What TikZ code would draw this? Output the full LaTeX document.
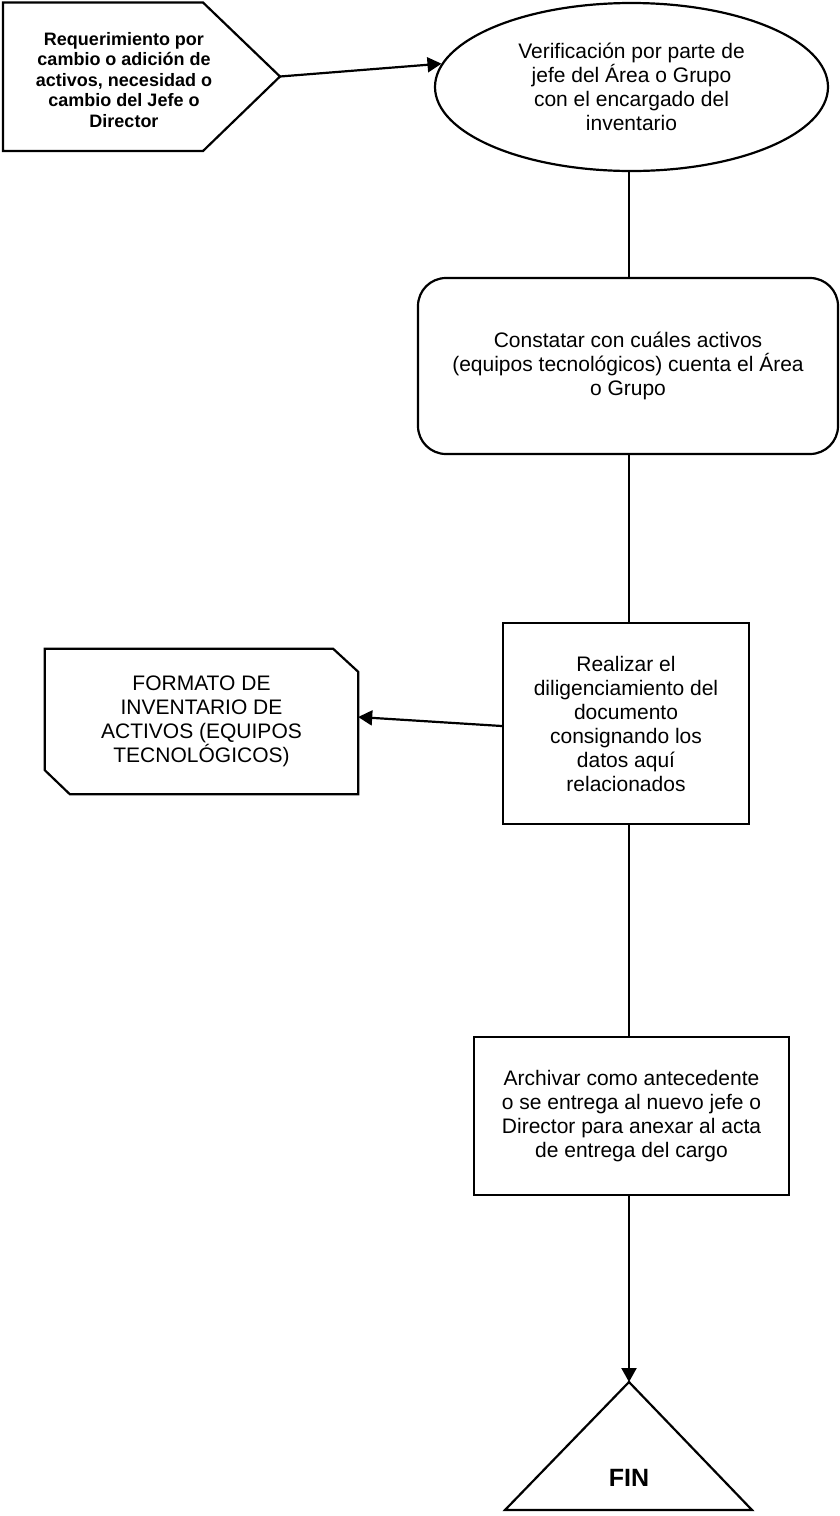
\documentclass[tikz,border=0pt]{standalone}
\usepackage{fontspec}
\setmainfont{Liberation Sans}
\usetikzlibrary{arrows.meta,shapes.geometric}

\tikzset{
  line/.style={line width=2.2pt, draw=black},
  arr/.style={line, -{Triangle[length=14pt,width=15pt]}},
  txt/.style={font=\fontsize{21}{24}\selectfont, align=center, inner sep=0pt},
  boldtxt/.style={font=\fontsize{18}{20.5}\selectfont\bfseries, align=center, inner sep=0pt},
  procbox/.style={line, rectangle, txt},
}

\begin{document}
\begin{tikzpicture}[x=1pt,y=-1pt]
\useasboundingbox (0,0) rectangle (839,1516);

% x position of the main vertical flow
\coordinate (spine) at (629,0);

% start: pentagon pointing right
\coordinate (reqtip) at (280,76.5);
\draw[line, line join=miter] (3,2.5) -- (203,2.5) -- (reqtip) -- (203,151) -- (3,151) -- cycle;
\node[boldtxt] (req) at (124,80) {Requerimiento por\\cambio o adición de\\activos, necesidad o\\cambio del Jefe o\\Director};

% verification ellipse
\node[line, ellipse, minimum width=393pt, minimum height=168pt, inner sep=0pt, txt] (ver) at (631.5,87)
  {Verificación por parte de\\jefe del Área o Grupo\\con el encargado del\\inventario};

% rounded process box
\node[procbox, rounded corners=28pt, minimum width=420pt, minimum height=176pt] (const) at (628,366)
  {Constatar con cuáles activos\\(equipos tecnológicos) cuenta el Área\\o Grupo};

% form filling box
\node[procbox, minimum width=246pt, minimum height=201pt] (real) at (626,723.5)
  {Realizar el\\diligenciamiento del\\documento\\consignando los\\datos aquí\\relacionados};

% inventory form (card with two cut corners)
\node[txt, minimum width=313pt, minimum height=145pt] (card) at (201.5,721.5)
  {FORMATO DE\\INVENTARIO DE\\ACTIVOS (EQUIPOS\\TECNOLÓGICOS)};
\draw[line, line join=miter] (card.north west) -- ([xshift=-25pt]card.north east)
  -- ([yshift=-23pt]card.north east) -- (card.south east)
  -- ([xshift=25pt]card.south west) -- ([yshift=24pt]card.south west) -- cycle;

% archive box
\node[procbox, minimum width=315pt, minimum height=158pt] (arch) at (631.5,1116)
  {Archivar como antecedente\\o se entrega al nuevo jefe o\\Director para anexar al acta\\de entrega del cargo};

% end triangle
\coordinate (finapex) at (629,1382);
\draw[line, line join=miter] (finapex) -- (752,1510) -- (505,1510) -- cycle;
\node[font=\fontsize{25}{28}\selectfont\bfseries, inner sep=0pt] (fin) at (629,1478) {FIN};

% connectors
\draw[arr] (reqtip) -- (ver.173);
\draw[line] (ver.south -| spine) -- (const.north -| spine);
\draw[line] (const.south -| spine) -- (real.north -| spine);
\draw[arr] ([yshift=-2.5pt]real.west) -- ([yshift=4.5pt]card.east);
\draw[line] (real.south -| spine) -- (arch.north -| spine);
\draw[arr] (arch.south -| spine) -- (finapex);
\end{tikzpicture}
\end{document}
